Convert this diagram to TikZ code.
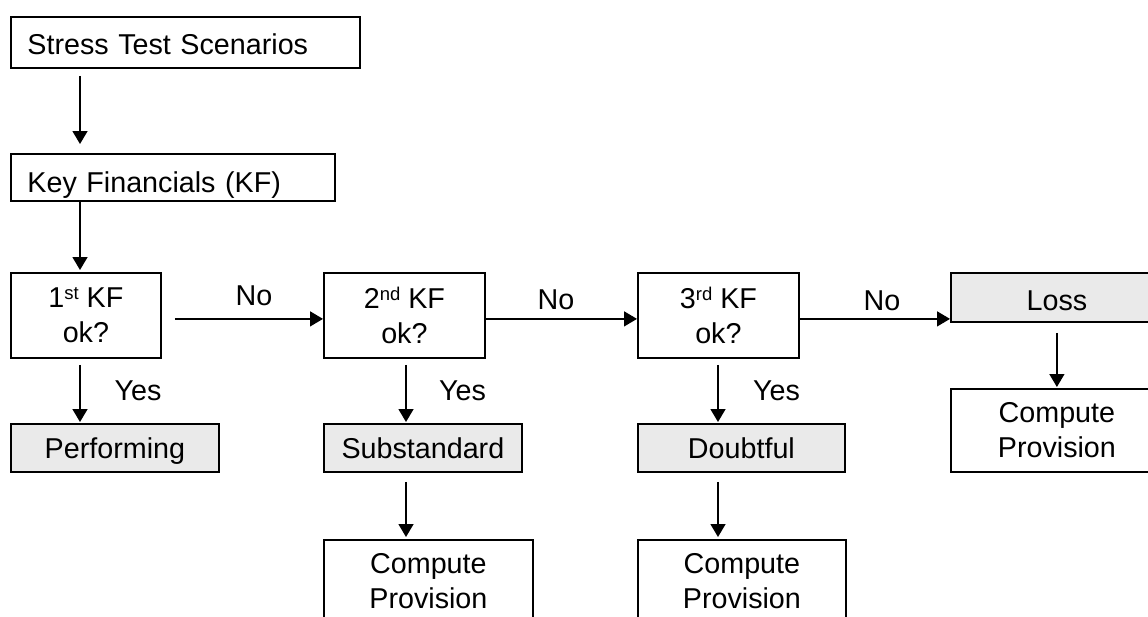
\documentclass[tikz,border=0pt]{standalone}
\usepackage{fontspec}
\setmainfont{Liberation Sans}
\usetikzlibrary{arrows.meta}
\definecolor{fillg}{RGB}{234,234,234}
\newcommand\dfont{\fontsize{28.7pt}{35pt}\selectfont}
\newcommand\supx[1]{\raisebox{8pt}{\fontsize{18.5pt}{18.5pt}\selectfont #1}}
\tikzset{
  box/.style={draw, line width=1.8pt, inner sep=0pt, anchor=north west, font=\dfont, align=center},
  one/.style={text height=20.5pt, text depth=0pt},
  gbox/.style={box, one, fill=fillg},
  arr/.style={line width=1.5pt, -{Triangle[length=13pt,width=15pt]}},
  lab/.style={anchor=base, inner sep=0pt, font=\dfont}
}
\begin{document}
\begin{tikzpicture}[x=1pt, y=-1pt]
\useasboundingbox (0,0) rectangle (1148,616);
\clip (0,0) rectangle (1148,616);
\fill[white] (0,0) rectangle (1148,616);
% boxes
\node[box, one, minimum width=349pt, minimum height=51pt, text width=316pt, align=left] (stress) at (10,16) {\raisebox{-1.5pt}{Stress Test Scenarios}};
\node[box, one, minimum width=324pt, minimum height=47pt, text width=291pt, align=left] (kf) at (10,153) {\raisebox{-4.5pt}{Key Financials (KF)}};
\node[box, minimum width=150pt, minimum height=85pt] (k1) at (10,272) {1\supx{st} KF\\ok?};
\node[box, minimum width=161pt, minimum height=85pt] (k2) at (323,272) {2\supx{nd} KF\\ok?};
\node[box, minimum width=161pt, minimum height=85pt] (k3) at (637,272) {3\supx{rd} KF\\ok?};
\node[gbox, minimum width=212pt, minimum height=49pt] (loss) at (950,272) {\raisebox{-2.5pt}{Loss}};
\node[box, minimum width=212pt, minimum height=83pt] (cpr) at (950,388) {Compute\\Provision};
\node[gbox, minimum width=208pt, minimum height=48pt] (perf) at (10,423) {Performing};
\node[gbox, minimum width=198pt, minimum height=48pt] (sub) at (323,423) {Substandard};
\node[gbox, minimum width=207pt, minimum height=48pt] (doubt) at (637,423) {Doubtful};
\node[box, minimum width=209pt, minimum height=83pt] (cp2) at (323,539) {Compute\\Provision};
\node[box, minimum width=208pt, minimum height=83pt] (cp3) at (637,539) {Compute\\Provision};
% labels
\node[lab] (no1) at (254,305) {No};
\node[lab] (no2) at (556,309.5) {No};
\node[lab] (no3) at (882,310) {No};
\node[lab] (yes1) at (138,400) {Yes};
\node[lab] (yes2) at (462.5,400) {Yes};
\node[lab] (yes3) at (776.5,400) {Yes};
% vertical connectors
\draw[arr, shorten <=7pt, shorten >=9pt] ([xshift=70pt]stress.south west) -- ([xshift=70pt]kf.north west);
\draw[arr, shorten >=2pt] ([xshift=70pt]kf.south west) -- ([xshift=70pt]k1.north west);
\draw[arr, shorten <=6pt, shorten >=1pt] ([xshift=70pt]k1.south west) -- ([xshift=70pt]perf.north west);
\draw[arr, shorten <=6pt, shorten >=1pt] ([xshift=83pt]k2.south west) -- ([xshift=83pt]sub.north west);
\draw[arr, shorten <=6pt, shorten >=1pt] ([xshift=81pt]k3.south west) -- ([xshift=81pt]doubt.north west);
\draw[arr, shorten <=9pt, shorten >=2pt] ([xshift=83pt]sub.south west) -- ([xshift=83pt]cp2.north west);
\draw[arr, shorten <=9pt, shorten >=2pt] ([xshift=81pt]doubt.south west) -- ([xshift=81pt]cp3.north west);
\draw[arr, shorten <=10pt, shorten >=1pt] (loss.south) -- (cpr.north);
% horizontal connectors
\draw[arr, shorten <=13pt] ([yshift=-3.5pt]k1.east) -- ([yshift=-3.5pt]k1.east -| k2.west);
\draw[arr] ([yshift=-3.5pt]k2.east) -- ([yshift=-3.5pt]k2.east -| k3.west);
\draw[arr] ([yshift=-3.5pt]k3.east) -- ([yshift=-3.5pt]k3.east -| loss.west);
\end{tikzpicture}
\end{document}
